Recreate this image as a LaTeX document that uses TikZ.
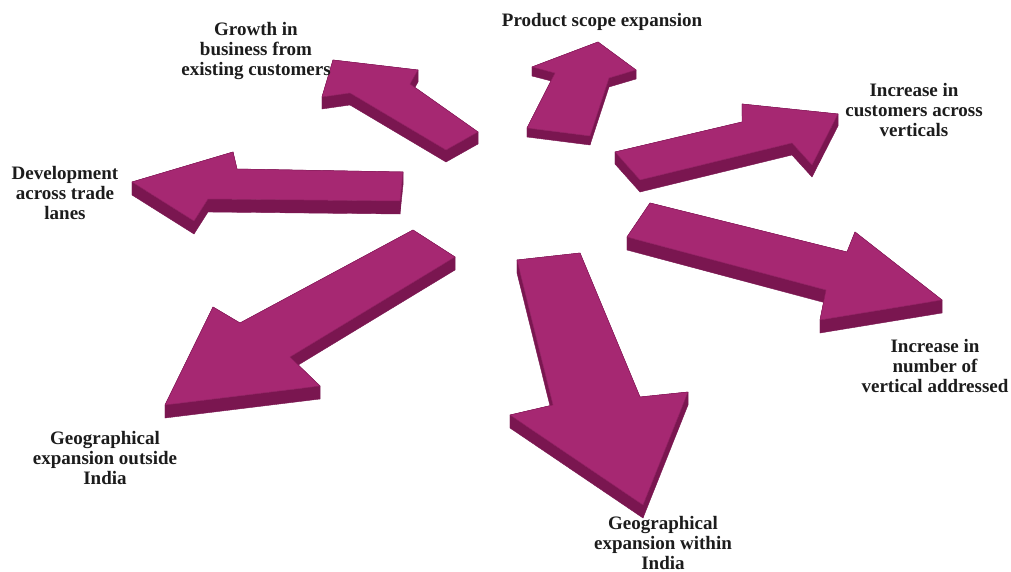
\documentclass[tikz,border=0pt]{standalone}
\usepackage{fontspec}
\setmainfont{Liberation Serif}
\usetikzlibrary{calc}

\definecolor{arrowtop}{RGB}{166,40,114}
\definecolor{arrowside}{RGB}{122,22,80}
\definecolor{labelink}{RGB}{28,28,28}

\tikzset{
  topface/.style={fill=arrowtop, draw=arrowside!60!arrowtop, line width=0.5pt, line join=round},
  sideface/.style={fill=arrowside, draw=arrowside, line width=0.4pt, line join=round},
  lbl/.style={font=\fontsize{19}{20}\selectfont\bfseries, text=labelink, align=center, inner sep=0pt}
}

% A flat block arrow lying on the floor: #1 = depth (pt), #2..#8 = outline of the top face
\newcommand\slab[8]{%
  \coordinate (s1) at #2; \coordinate (s2) at #3; \coordinate (s3) at #4;
  \coordinate (s4) at #5; \coordinate (s5) at #6; \coordinate (s6) at #7;
  \coordinate (s7) at #8;
  \foreach \a/\b in {1/2,2/3,3/4,4/5,5/6,6/7,7/1}
    \fill[sideface] (s\a) -- (s\b) -- ([yshift=-#1pt]s\b) -- ([yshift=-#1pt]s\a) -- cycle;
  \fill[topface] (s1) -- (s2) -- (s3) -- (s4) -- (s5) -- (s6) -- (s7) -- cycle;
}

\begin{document}
\begin{tikzpicture}[x=1pt,y=-1pt]
  \useasboundingbox (0,0) rectangle (1011,572);
  \fill[white] (0,0) rectangle (1011,572);

  % development across trade lanes (pointing left)
  \slab{13}{(403,172)}{(237,169)}{(233,152)}{(132,182)}{(194,221)}{(208,199)}{(400,201)}
  % growth from existing customers (up-left)
  \slab{12}{(478,132)}{(410,84)}{(418,70)}{(333,60)}{(322,97)}{(350,93)}{(446,150)}
  % product scope (up)
  \slab{9}{(590,136)}{(609,78)}{(636,70)}{(598,42)}{(532,67)}{(555,73)}{(527,128)}
  % customers across verticals (up-right)
  \slab{12}{(615,152)}{(742,122)}{(742,104)}{(838,114)}{(812,165)}{(792,143)}{(640,180)}
  % verticals addressed (down-right)
  \slab{13}{(650,203)}{(847,252)}{(855,232)}{(942,300)}{(820,320)}{(826,290)}{(627,237)}
  % outside India (down-left)
  \slab{13}{(413,230)}{(240,323)}{(213,307)}{(165,405)}{(320,386)}{(290,357)}{(455,257)}
  % within India (down)
  \slab{13}{(517,260)}{(553,405)}{(510,415)}{(643,505)}{(688,392)}{(640,397)}{(580,253)}

  % labels
  \node[lbl] (growth)  at (256,51)  {Growth in\\business from\\existing customers};
  \node[lbl] (product) at (602,22)  {Product scope expansion};
  \node[lbl] (custom)  at (914,110) {Increase in\\customers across\\verticals};
  \node[lbl] (number)  at (935,366) {Increase in\\number of\\vertical addressed};
  \node[lbl] (outside) at (105,458) {Geographical\\expansion outside\\India};
  \node[lbl] (within)  at (663,543) {Geographical\\expansion within\\India};
  \node[lbl] (trade)   at (65,193)  {Development\\across trade\\lanes};
\end{tikzpicture}
\end{document}
